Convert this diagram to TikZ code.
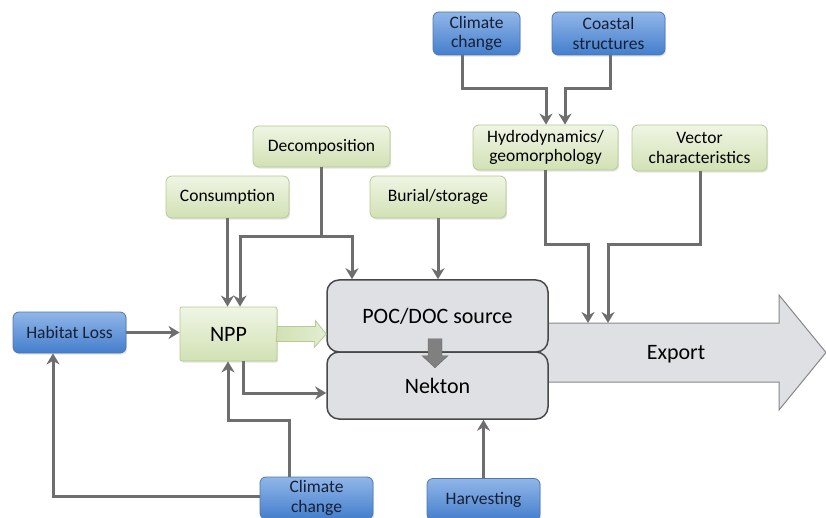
\documentclass[tikz,border=0pt]{standalone}
\usepackage{fontspec}
\setmainfont{Carlito}
\usetikzlibrary{arrows.meta,shadows,calc}
\definecolor{bluetop}{RGB}{145,182,232}
\definecolor{bluebot}{RGB}{68,126,204}
\definecolor{blueline}{RGB}{80,118,178}
\definecolor{bluetext}{RGB}{22,32,55}
\definecolor{greentop}{RGB}{239,245,228}
\definecolor{greenbot}{RGB}{210,225,180}
\definecolor{greenline}{RGB}{182,202,148}
\definecolor{pocfill}{RGB}{222,224,228}
\definecolor{pocline}{RGB}{72,72,72}
\definecolor{connc}{RGB}{110,110,110}
\definecolor{expline}{RGB}{135,135,135}
\definecolor{blockc}{RGB}{128,128,128}
\begin{document}
\begin{tikzpicture}[x=1pt,y=-1pt,
  base/.style={rounded corners=6pt, align=center, inner sep=0pt,
    font=\fontsize{17.5}{19.5}\selectfont,
    drop shadow={opacity=0.22,shadow xshift=1.2pt,shadow yshift=-1.6pt}},
  bluebox/.style={base, draw=blueline, line width=0.8pt, top color=bluetop, bottom color=bluebot, text=bluetext},
  greenbox/.style={base, draw=greenline, line width=0.8pt, top color=greentop, bottom color=greenbot, text=black},
  pocbox/.style={rounded corners=12pt, draw=pocline, line width=1.5pt, fill=pocfill,
    font=\fontsize{22}{24}\selectfont, inner sep=0pt, minimum width=221pt},
  conn/.style={draw=connc, line width=3pt, -{Stealth[length=11pt,width=13pt,inset=3.5pt]}},
  greenarrow/.style={draw=greenline, line width=0.8pt, left color=greenbot, right color=greentop!60!greenbot},
  blockarrow/.style={fill=blockc, draw=blockc!80!black, line width=0.4pt},
  exparrow/.style={draw=expline, fill=pocfill, line width=1pt},
]
\useasboundingbox (0,0) rectangle (826,518);

% Export arrow (background)
\draw[exparrow] (540,323) -- (779,323) -- (779,295) -- (826,352.5) -- (779,410) -- (779,382) -- (540,382) -- cycle;
\coordinate (exptop) at (600,323);
\node[font=\fontsize{22}{24}\selectfont] (export) at (676,354) {Export};

% nodes
\node[bluebox, minimum width=87pt, minimum height=43pt] (cc1) at (476.5,33.5) {Climate\\change};
\node[bluebox, minimum width=113pt, minimum height=43pt] (coast) at (608.5,33.5) {Coastal\\structures};
\node[greenbox, minimum width=145pt, minimum height=45pt] (hydro) at (545.5,147.5) {Hydrodynamics/\\geomorphology};
\node[greenbox, minimum width=135pt, minimum height=46pt] (vector) at (699.5,148) {Vector\\characteristics};
\node[greenbox, minimum width=137pt, minimum height=41pt] (decomp) at (321.5,146.5) {Decomposition};
\node[greenbox, minimum width=123pt, minimum height=42pt] (consum) at (227.5,197) {Consumption};
\node[greenbox, minimum width=136pt, minimum height=42pt] (burial) at (438,197) {Burial/storage};
\node[bluebox, minimum width=113pt, minimum height=41pt] (habitat) at (69.5,332.5) {Habitat Loss};
\node[greenbox, minimum width=97pt, minimum height=54pt, rounded corners=2pt,
      font=\fontsize{22}{24}\selectfont] (npp) at (228.5,334) {NPP};
\node[pocbox, minimum height=72pt] (poc) at (437.5,316) {POC/DOC source};
\node[pocbox, minimum height=67pt] (nekton) at (437.5,385.5) {Nekton};
\node[bluebox, minimum width=113pt, minimum height=42pt] (cc2) at (316.5,498) {Climate\\change};
\node[bluebox, minimum width=113pt, minimum height=42pt] (harv) at (483.5,499.5) {Harvesting};

% green arrow NPP -> POC
\draw[greenarrow] ($(npp.east)+(0,-7.5)$) -- ++(38,0) -- ++(0,-6) -- (poc.west |- npp.east)
  -- ++(-12,13.5) -- ++(0,-6) -- ++(-38,0) -- cycle;

% block arrow POC -> Nekton
\draw[blockarrow] ($(poc.south)+(-9.5,-14)$) -- ++(14,0) -- ++(0,17) -- ++(6,0)
  -- ++(-13,12) -- ++(-13,-12) -- ++(6,0) -- cycle;

% connectors
\coordinate (a1) at (546,89);
\coordinate (a2) at (565,89);
\draw[conn] ([xshift=-14.5pt]cc1.south) |- (a1) -- (a1 |- hydro.north);
\draw[conn] ([xshift=1.5pt]coast.south) |- (a2) -- (a2 |- hydro.north);

\coordinate (b1) at (588,245);
\coordinate (b2) at (608,245);
\draw[conn] ([xshift=-0.5pt]hydro.south) |- (b1) -- (b1 |- exptop);
\draw[conn] ([xshift=0.5pt]vector.south) |- (b2) -- (b2 |- exptop);

\coordinate (d1) at (240,237);
\coordinate (d2) at (352,237);
\draw[conn] (decomp.south) |- (d1) -- (d1 |- npp.north);
\draw[conn] (decomp.south |- d2) -- (d2) -- (d2 |- poc.north);
\draw[conn] (consum.south) -- (consum.south |- npp.north);
\draw[conn] (burial.south) -- (burial.south |- poc.north);
\draw[conn] (habitat.east) -- (habitat.east -| npp.west);

\coordinate (c1) at (53,496);
\coordinate (c2) at (228,420);
\draw[conn] (cc2.west |- c1) -- (c1) -- (c1 |- habitat.south);
\draw[conn] ([xshift=-27.5pt]cc2.north) |- (c2) -- (c2 |- npp.south);

\coordinate (n1) at (243,393);
\draw[conn] (n1 |- npp.south) -- (n1) -- (n1 -| nekton.west);
\draw[conn] (harv.north) -- (harv.north |- nekton.south);
\end{tikzpicture}
\end{document}
